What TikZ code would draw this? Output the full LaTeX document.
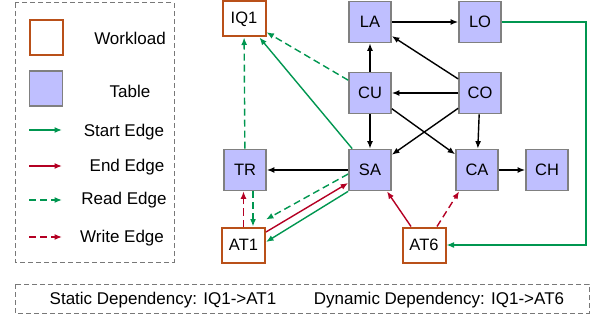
\documentclass[tikz,border=0pt]{standalone}
\usepackage{fontspec}
\setmainfont{Liberation Sans}
\usetikzlibrary{arrows.meta}

\definecolor{startgreen}{RGB}{0,150,80}
\definecolor{endred}{RGB}{180,0,35}
\definecolor{wlorange}{RGB}{185,80,25}
\definecolor{tblfill}{RGB}{191,191,255}
\definecolor{tblborder}{RGB}{128,128,128}
\definecolor{framegray}{RGB}{120,120,120}

\begin{document}
\begin{tikzpicture}[x=1pt, y=-1pt, >={Latex[length=7.5pt,width=6pt]},
  wlbox/.style={draw=wlorange, line width=2pt, fill=white,
      minimum width=43pt, minimum height=35pt, inner sep=0pt,
      font=\fontsize{16.5}{18}\selectfont},
  tblbox/.style={draw=tblborder, line width=1.7pt, fill=tblfill,
      minimum width=42pt, minimum height=41pt, inner sep=0pt,
      font=\fontsize{16.5}{18}\selectfont},
  txt/.style={font=\fontsize{17}{19}\selectfont},
  dep/.style={->, color=black, line width=1.4pt},
  startedge/.style={->, color=startgreen, line width=1.4pt},
  endedge/.style={->, color=endred, line width=1.4pt},
  readedge/.style={->, color=startgreen, line width=1.4pt, dash pattern=on 7pt off 4pt},
  writeedge/.style={->, color=endred, line width=1.4pt, dash pattern=on 7pt off 4pt},
  frame/.style={draw=framegray, line width=1pt, dash pattern=on 5pt off 3pt}]

\useasboundingbox (0,0) rectangle (594,331);

% legenda
\draw[frame] (15,3) rectangle (174,262);
\node[wlbox, minimum width=33pt, minimum height=35pt] (lgwl) at (46,38) {};
\node[tblbox, minimum width=33pt, minimum height=35pt] (lgtbl) at (46,88.5) {};
\node[txt] (lgwltxt) at (130,38) {Workload};
\node[txt] (lgtbltxt) at (130,91) {Table};

\coordinate (lgs1) at (29,130);  \coordinate (lgs2) at (62,130);
\coordinate (lge1) at (29,166);  \coordinate (lge2) at (62,166);
\coordinate (lgr1) at (29,200);  \coordinate (lgr2) at (62,200);
\coordinate (lgw1) at (29,237);  \coordinate (lgw2) at (62,237);
\draw[startedge] (lgs1) -- (lgs2);
\draw[endedge] (lge1) -- (lge2);
\draw[readedge] (lgr1) -- (lgr2);
\draw[writeedge] (lgw1) -- (lgw2);
\node[txt] (lgstxt) at (124,132) {Start Edge};
\node[txt] (lgetxt) at (127,167) {End Edge};
\node[txt] (lgrtxt) at (124,200) {Read Edge};
\node[txt] (lgwtxt) at (122,238) {Write Edge};

% uzly
\node[wlbox] (IQ1) at (244,19) {IQ1};
\node[wlbox] (AT1) at (243.5,245) {AT1};
\node[wlbox] (AT6) at (424,245) {AT6};
\node[tblbox] (LA) at (370,22) {LA};
\node[tblbox] (LO) at (480,22) {LO};
\node[tblbox] (CU) at (370,93) {CU};
\node[tblbox] (CO) at (480,93) {CO};
\node[tblbox] (TR) at (245,170) {TR};
\node[tblbox] (SA) at (370,170) {SA};
\node[tblbox] (CA) at (477,170) {CA};
\node[tblbox] (CH) at (547,170) {CH};

% zavislosti tabulek
\draw[dep] (LA) -- (LO);
\draw[dep] (CO) -- (LA);
\draw[dep] (CO) -- (CU);
\draw[dep] (CU) -- (LA);
\draw[dep] (CU) -- (SA);
\draw[dep] (CU) -- (CA);
\draw[dep] (CO) -- (SA);
\draw[dep] (CO) -- (CA);
\draw[dep] (CA) -- (CH);
\draw[dep] (SA) -- (TR);

% hrany workloadu
\draw[startedge] (SA) -- (IQ1);
\draw[readedge] (CU) -- (IQ1);
\draw[readedge] (TR) -- (IQ1);
\draw[readedge] ([xshift=8pt]TR.south) -- ([xshift=8pt]TR.south |- AT1.north);
\draw[writeedge] (AT1.north) -- (AT1.north |- TR.south);
\draw[readedge] ([yshift=-4pt]SA.west) -- ([yshift=7pt]AT1.north east);
\draw[endedge] ([yshift=13pt]AT1.east) -- ([yshift=-13pt]SA.west);
\draw[startedge] (SA.south west) -- ([yshift=3pt]AT1.east);
\draw[endedge] ([xshift=-13pt]AT6.north) -- ([xshift=17pt]SA.south);
\draw[writeedge] ([xshift=13pt]AT6.north) -- ([xshift=4pt]CA.south west);
\draw[startedge] (LO.east) -- ++(84,0) |- (AT6.east);

% spodni ramecek
\draw[frame] (15,284) rectangle (589,313);
\node[txt] (stat) at (163,300) {Static Dependency: IQ1->AT1};
\node[txt] (dyn) at (439,300) {Dynamic Dependency: IQ1->AT6};

\end{tikzpicture}
\end{document}
